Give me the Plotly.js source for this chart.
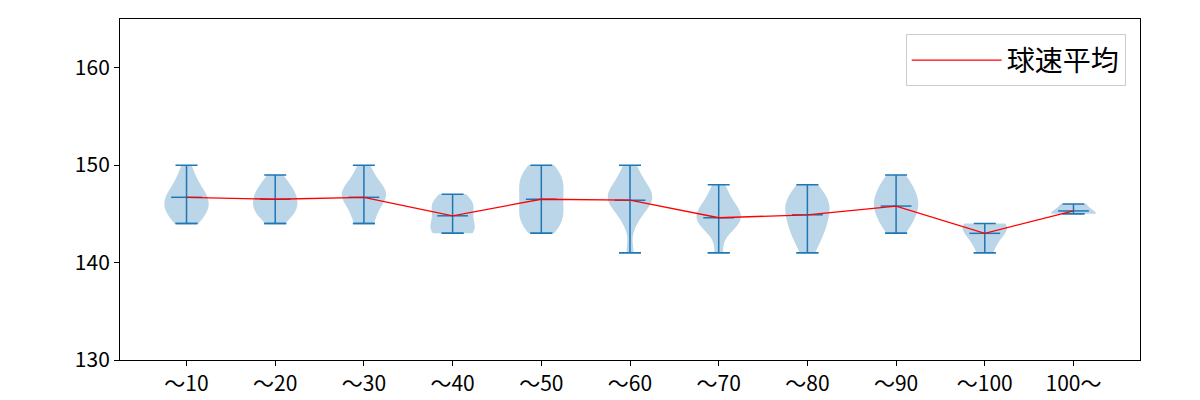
<!DOCTYPE html>
<html>
<head>
<meta charset="utf-8">
<script src="https://cdn.plot.ly/plotly-3.0.1.min.js"></script>
<style>html,body{margin:0;padding:0;background:#fff;}</style>
</head>
<body>
<div id="chart" style="width:1200px;height:400px;"></div>
<script>
const categories = ["～10","～20","～30","～40","～50","～60","～70","～80","～90","～100","100～"];
const positions = [1,2,3,4,5,6,7,8,9,10,11];
const samples = [
  [144,144,145,145,145,146,146,146,146,147,147,147,148,148,149,150],
  [144,145,145,145,146,146,146,147,147,147,148,148,149],
  [144,144,145,146,146,147,147,147,147,148,148,149,150],
  [143,143,143,144,144,145,146,146,146,147],
  [143,144,144,144,145,145,146,146,147,147,148,148,149,149,149,150],
  [141,144,145,146,146,146,147,147,147,148,148,149,150],
  [141,143,144,144,144,145,145,145,146,146,147,148],
  [141,142,143,143,144,144,145,145,146,146,146,147,147,148],
  [143,144,144,145,145,146,146,146,147,147,148,148,149],
  [141,142,143,143,144,144,144],
  [145,145,146]
];
const mins = [144,144,144,143,143,141,141,141,143,141,145];
const maxs = [150,149,150,147,150,150,148,148,149,144,146];
const means = [146.7,146.5,146.7,144.8,146.5,146.4,144.6,144.9,145.8,143.0,145.3];

const blue = "#1f77b4";
const traces = [];
samples.forEach((s, i) => {
  traces.push({
    type: "violin",
    x: s.map(() => positions[i]),
    y: s,
    spanmode: "hard",
    scalemode: "width",
    width: 0.5,
    fillcolor: "rgba(31,119,180,0.3)",
    line: {width: 0, color: "rgba(31,119,180,0)"},
    points: false,
    box: {visible: false},
    meanline: {visible: false},
    hoverinfo: "skip",
    showlegend: false
  });
});
traces.push({
  type: "scatter", mode: "markers",
  x: positions, y: maxs,
  marker: {size: 0.1, color: "rgba(0,0,0,0)"},
  error_y: {type: "data", symmetric: false,
    array: maxs.map(() => 0),
    arrayminus: maxs.map((m, i) => m - mins[i]),
    color: blue, thickness: 1.5, width: 11},
  showlegend: false, hoverinfo: "skip"
});
traces.push({
  type: "scatter", mode: "markers",
  x: positions, y: mins,
  marker: {size: 0.1, color: "rgba(0,0,0,0)"},
  error_y: {type: "data", symmetric: false,
    array: mins.map(() => 0), arrayminus: mins.map(() => 0),
    color: blue, thickness: 1.5, width: 11},
  showlegend: false, hoverinfo: "skip"
});
traces.push({
  type: "scatter", mode: "markers",
  x: positions, y: means,
  marker: {symbol: "line-ew", size: 22, line: {width: 1.5, color: blue}},
  showlegend: false, hoverinfo: "skip"
});
traces.push({
  type: "scatter", mode: "lines",
  x: positions, y: means,
  name: "球速平均",
  line: {color: "red", width: 1.3}
});

const font = {family: "Noto Sans CJK JP, sans-serif", size: 21, color: "#000"};
const layout = {
  width: 1200, height: 400,
  margin: {l: 120, r: 60, t: 19, b: 40},
  paper_bgcolor: "#fff", plot_bgcolor: "#fff",
  font: font,
  violinmode: "overlay",
  showlegend: true,
  legend: {x: 0.986, xanchor: "right", y: 0.955, yanchor: "top",
    bordercolor: "#cccccc", borderwidth: 1, bgcolor: "rgba(255,255,255,0.8)",
    itemwidth: 90,
    font: {family: "Noto Sans CJK JP, sans-serif", size: 28, color: "#000"}},
  xaxis: {range: [0.25, 11.75], tickvals: positions, ticktext: categories,
    showgrid: false, zeroline: false, showline: true, linecolor: "#000", linewidth: 1,
    mirror: true, ticks: "outside", ticklen: 5, tickcolor: "#000", tickfont: font},
  yaxis: {range: [130, 165], tickvals: [130,140,150,160],
    showgrid: false, zeroline: false, showline: true, linecolor: "#000", linewidth: 1,
    mirror: true, ticks: "outside", ticklen: 5, tickcolor: "#000", tickfont: font}
};
Plotly.newPlot("chart", traces, layout, {displayModeBar: false, staticPlot: true});
</script>
</body>
</html>
